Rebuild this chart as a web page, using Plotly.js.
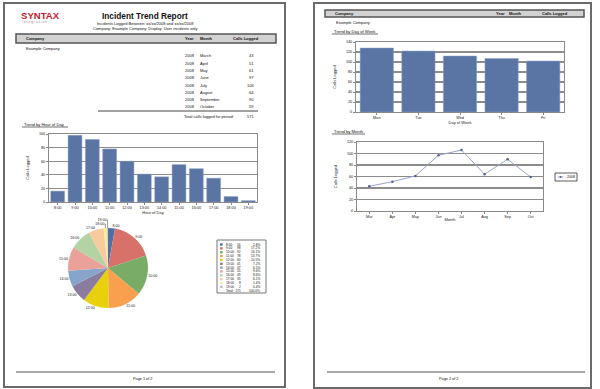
<!DOCTYPE html>
<html><head><meta charset="utf-8">
<script src="https://cdn.plot.ly/plotly-3.0.1.min.js"></script>
<style>html,body{margin:0;padding:0;background:#fff}#c{width:600px;height:389px}</style>
</head><body><div id="c"></div>
<script>
// ---- data ----
const hours = ['8:00','9:00','10:00','11:00','12:00','13:00','14:00','15:00','16:00','17:00','18:00','19:00'];
const hourCalls = [16,98,92,78,60,41,37,55,49,35,8,2];
const days = ['Mon','Tue','Wed','Thu','Fri'];
const dayCalls = [128,122,112,107,102];
const months = ['March','April','May','June','July','August','September','October'];
const monthShort = ['Mar','Apr','May','Jun','Jul','Aug','Sep','Oct'];
const monthCalls = [43,51,61,97,106,64,90,59];
const year = '2008';
const pieColors = ['#4f6ea6','#d9716b','#79ac67','#f9a04e','#e8d00c','#8a7b9f','#87a4cb','#e9a19a','#b4d3a5','#f8cb9f','#f4ee8c','#c4bad7'];

// ---- helpers ----
const W = 600, H = 389;
const px = x => x / W, py = y => 1 - y / H;
const FONT = 'Arial, "Liberation Sans", sans-serif';
const ann = [], shp = [];
function T(x, y, text, size, opts) {
  opts = opts || {};
  ann.push(Object.assign({xref:'paper', yref:'paper', x:px(x), y:py(y), text:text, showarrow:false,
    xanchor:'left', yanchor:'middle', font:{family:FONT, size:size, color:'#111'}}, opts));
}
function R(x0,y0,x1,y1,opts){ shp.push(Object.assign({type:'rect',xref:'paper',yref:'paper',x0:px(x0),x1:px(x1),y0:py(y0),y1:py(y1),line:{color:'#666',width:1}},opts||{})); }
function L(x0,y0,x1,y1,color,width){ shp.push({type:'line',xref:'paper',yref:'paper',x0:px(x0),x1:px(x1),y0:py(y0),y1:py(y1),line:{color:color,width:width}}); }

const total = hourCalls.reduce((a,b)=>a+b,0);

// page borders
R(4,3,285,387,{line:{color:'#6a6a6a',width:2}});
R(314,3,591,388,{line:{color:'#6a6a6a',width:2}});

// page 1 header
T(19,15.5,'<b>SYNTAX</b>',9.6,{font:{family:FONT,size:9.6,color:'#c8202f'}});
T(20,22,'i n t e g r a t i o n',3.4,{font:{family:FONT,size:3.4,color:'#888'}});
T(145,16,'<b>Incident Trend Report</b>',8.3,{xanchor:'center'});
T(145,23.5,'Incidents Logged Between: xx/xx/2008 and xx/xx/2008',4,{xanchor:'center'});
T(145,28.5,'Company: Example Company; Display: User incidents only',4,{xanchor:'center'});

function headerBar(x0,y0,x1,y1,cx){
  R(x0,y0,x1,y1,{fillcolor:'#d2d2d2',line:{color:'#555',width:1.5}});
  const ym=(y0+y1)/2;
  T(cx[0],ym,'<b>Company</b>',4);
  T(cx[1],ym,'<b>Year</b>',4);
  T(cx[2],ym,'<b>Month</b>',4);
  T(cx[3],ym,'<b>Calls Logged</b>',4);
}
headerBar(16,34,276,43,[24,183,198,231]);
T(24,48,'Example Company',4);
months.forEach((m,i)=>{
  const y = 56 + i*7.25;
  T(183,y,year,4);
  T(198,y,m,4);
  T(256,y,String(monthCalls[i]),4,{xanchor:'right'});
});
L(98,111,258,111,'#444',1);
T(236,116,'Total calls logged for period:',4,{xanchor:'right'});
T(256,116,String(total),4,{xanchor:'right'});
T(22,124.5,'Trend by Hour of Day',4.2);
L(22,127,68,127,'#111',0.6);

// pie legend box
R(217,240,266,293,{line:{color:'#777',width:1}});
hours.forEach((h,i)=>{
  const y = 244.5 + i*3.85;
  shp.push({type:'rect',xref:'paper',yref:'paper',x0:px(220),x1:px(222.6),y0:py(y+1.2),y1:py(y-1.2),fillcolor:pieColors[i],line:{width:0}});
  T(224,y,h,3.2);
  T(243,y,String(hourCalls[i]),3.2,{xanchor:'right'});
  T(262,y,(hourCalls[i]/total*100).toFixed(1)+'%',3.2,{xanchor:'right'});
});
T(243,244.5+12*3.85,'Total:  '+total,3.2,{xanchor:'right'});
T(262,244.5+12*3.85,'100.0%',3.2,{xanchor:'right'});

// footers
L(16,372,275,372,'#555',1.2);
T(142,379,'Page 1 of 2',3.8,{xanchor:'center'});
L(327,372,585,372,'#555',1.2);
T(448,379,'Page 2 of 2',3.8,{xanchor:'center'});

// page 2 header
headerBar(325,10,584,17,[333,494,507,540]);
T(334,22,'Example Company',4);
T(332,31.5,'Trend by Day of Week',4.2);
L(332,34,378,34,'#111',0.6);
T(332,131.5,'Trend by Month',4.2);
L(332,134,365,134,'#111',0.6);

// month chart legend (manual)
R(555,173,577,181,{line:{color:'#333',width:0.8}});
L(557.5,177,563.5,177,'#9aa6c8',1);
shp.push({type:'circle',xref:'paper',yref:'paper',x0:px(559.5),x1:px(561.5),y0:py(176),y1:py(178),fillcolor:'#4d5f93',line:{width:0}});
T(565,177,year,3.6);

// ---- traces ----
const barColor = '#5a74a3';
const traces = [
  {type:'bar', x:hours, y:hourCalls, xaxis:'x', yaxis:'y', marker:{color:barColor, line:{color:'#8ea0c4',width:0.5}}, showlegend:false},
  {type:'bar', x:days, y:dayCalls, xaxis:'x2', yaxis:'y2', marker:{color:barColor, line:{color:'#8ea0c4',width:0.5}}, showlegend:false},
  {type:'scatter', mode:'lines+markers', x:monthShort, y:monthCalls, xaxis:'x3', yaxis:'y3', name:year,
   line:{color:'#9aa6c8',width:1}, marker:{color:'#4d5f93',size:2.5}, showlegend:false},
  {type:'pie', labels:hours, values:hourCalls, sort:false, direction:'clockwise', rotation:0,
   marker:{colors:pieColors, line:{width:0}}, textinfo:'label', textposition:'outside',
   outsidetextfont:{family:FONT,size:3.6,color:'#222'},
   domain:{x:[px(68),px(148)], y:[py(308),py(228)]}, showlegend:false}
];

function xa(domain){ return {domain:domain, type:'category', showline:true, mirror:true, linecolor:'#8a8a8a', linewidth:1,
  ticks:'outside', ticklen:1.5, tickcolor:'#888', tickfont:{family:FONT,size:3.8,color:'#222'}, showgrid:false, fixedrange:true,
  title:{font:{family:FONT,size:4,color:'#222'}, standoff:0}}; }
function ya(domain, range, dtick){ return {domain:domain, range:range, dtick:dtick, showline:true, mirror:true, linecolor:'#8a8a8a', linewidth:1,
  ticks:'outside', ticklen:2, tickcolor:'#888', tickfont:{family:FONT,size:3.8,color:'#222'}, gridcolor:'#8c8c8c', gridwidth:1.3,
  zeroline:false, fixedrange:true, title:{font:{family:FONT,size:4,color:'#222'}, standoff:9}}; }

const layout = {
  width:W, height:H, margin:{l:0,r:0,t:0,b:0}, paper_bgcolor:'#fff', plot_bgcolor:'#fff',
  font:{family:FONT}, bargap:0.2, showlegend:false,
  xaxis: Object.assign(xa([px(49),px(257)]), {anchor:'y'}),
  yaxis: Object.assign(ya([py(202),py(134)],[0,100],20), {anchor:'x'}),
  xaxis2: Object.assign(xa([px(356),px(564)]), {anchor:'y2'}),
  yaxis2: Object.assign(ya([py(112),py(42)],[0,140],20), {anchor:'x2'}),
  xaxis3: Object.assign(xa([px(357),px(543)]), {anchor:'y3'}),
  yaxis3: Object.assign(ya([py(211),py(142)],[0,120],20), {anchor:'x3'}),
  annotations: ann, shapes: shp
};
layout.xaxis.title.text = 'Hour of Day';
layout.yaxis.title.text = 'Calls Logged';
layout.xaxis2.title.text = 'Day of Week';
layout.yaxis2.title.text = 'Calls Logged';
layout.xaxis3.title.text = 'Month';
layout.yaxis3.title.text = 'Calls Logged';

Plotly.newPlot('c', traces, layout, {staticPlot:true, displayModeBar:false});
</script></body></html>
